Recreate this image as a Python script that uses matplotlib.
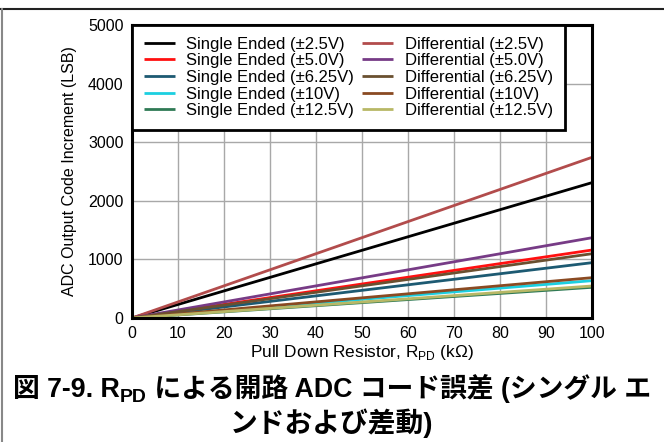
import matplotlib
matplotlib.use("Agg")
import matplotlib.pyplot as plt
from matplotlib.lines import Line2D

plt.rcParams["font.family"] = ["Liberation Sans", "DejaVu Sans"]
plt.rcParams["mathtext.fontset"] = "custom"
plt.rcParams["mathtext.rm"] = "Liberation Sans"
plt.rcParams["mathtext.bf"] = "Liberation Sans:bold"

# pull-down resistor sweep (kOhm) and code increment at each end (LSB)
r_pd = [0, 100]
se_labels = ["Single Ended (±2.5V)", "Single Ended (±5.0V)", "Single Ended (±6.25V)",
             "Single Ended (±10V)", "Single Ended (±12.5V)"]
diff_labels = ["Differential (±2.5V)", "Differential (±5.0V)", "Differential (±6.25V)",
               "Differential (±10V)", "Differential (±12.5V)"]
se_values = [[0, 2310], [0, 1160], [0, 944], [0, 637], [0, 524]]
diff_values = [[0, 2742], [0, 1370], [0, 1097], [0, 688], [0, 546]]
se_colors = ["#000000", "#ff1010", "#1d5a72", "#1ccfe0", "#2f7a55"]
diff_colors = ["#b24c4c", "#773b86", "#6a5030", "#8a4a22", "#b8b866"]

W, H = 664, 442
fig = plt.figure(figsize=(W / 100, H / 100), dpi=100)
ax = fig.add_axes([132 / W, 1 - 318 / H, 460 / W, 293 / H])

handles = []
for lab, vals, col in zip(se_labels, se_values, se_colors):
    h, = ax.plot(r_pd, vals, color=col, lw=2, label=lab, solid_capstyle="butt")
    handles.append(h)
for lab, vals, col in zip(diff_labels, diff_values, diff_colors):
    h, = ax.plot(r_pd, vals, color=col, lw=2, label=lab, solid_capstyle="butt")
    handles.append(h)

ax.set_xlim(0, 100)
ax.set_ylim(0, 5000)
ax.set_xticks(range(0, 101, 10))
ax.set_yticks(range(0, 5001, 1000))
ax.grid(True, color="#a8a8a8", lw=1)
ax.set_axisbelow(True)
ax.tick_params(length=0, labelsize=11.5, pad=6)
for s in ax.spines.values():
    s.set_linewidth(2.2)

ax.set_xlabel("Pull Down Resistor, R$_{\\mathrm{PD}}$ (k\u03a9)", fontsize=12.4, labelpad=1)
ax.set_ylabel("ADC Output Code Increment (LSB)", fontsize=11.5, labelpad=8)

leg = ax.legend(handles=handles, ncol=2, loc="upper left", bbox_to_anchor=(0, 1),
                borderaxespad=0, fontsize=12, handlelength=1.85, handletextpad=0.7,
                columnspacing=0.5, labelspacing=0.1, fancybox=False, framealpha=1,
                borderpad=0.7)
leg.get_frame().set_edgecolor("black")
leg.get_frame().set_linewidth(2)

# page frame around the figure
fig.add_artist(Line2D([0, 1], [1 - 9 / H] * 2, color="#222222", lw=1.5))
fig.add_artist(Line2D([1.5 / W] * 2, [0, 1 - 9 / H], color="#888888", lw=1.5))

# caption: first line built from pieces so the subscript can sit below the baseline
cap = dict(family=["Liberation Sans", "Noto Sans CJK JP"], fontweight="bold")
pieces = [("図 7-9. R", 19.3, 0), ("PD", 14, -5), (" による開路 ADC コード誤差 (シングル エ", 19.3, 0)]
base_y = 397
renderer = fig.canvas.get_renderer()
texts = []
for s, size, dy in pieces:
    t = fig.text(0, 0, s, fontsize=size, va="baseline", ha="left", **cap)
    texts.append((t, dy))
widths = [t.get_window_extent(renderer).width for t, _ in texts]
x = (W - sum(widths)) / 2
for (t, dy), w in zip(texts, widths):
    t.set_position((x / W, 1 - (base_y - dy) / H))
    x += w
fig.text(0.5, 1 - 432 / H, "ンドおよび差動)", fontsize=20, va="baseline", ha="center", **cap)

fig.savefig("out.png", dpi=100)
